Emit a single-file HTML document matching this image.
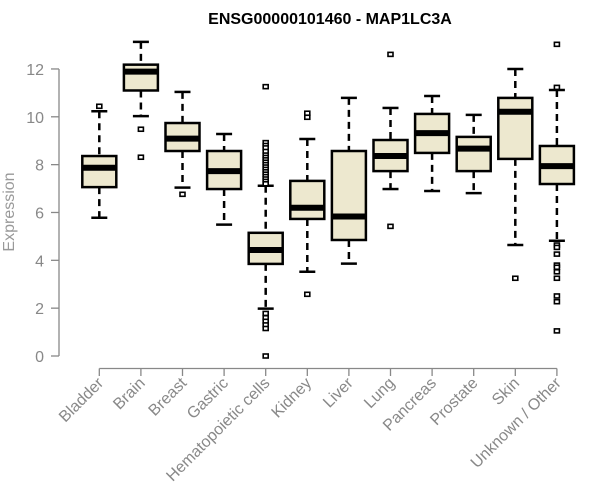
<!DOCTYPE html>
<html><head><meta charset="utf-8"><style>
body{margin:0;background:#fff}
svg{display:block;font-family:"Liberation Sans",Arial,sans-serif}
</style></head><body>
<svg id="chart" width="600" height="500">
<text x="330" y="24" text-anchor="middle" font-size="16" font-weight="bold">ENSG00000101460 - MAP1LC3A</text>
<text transform="translate(14,212) rotate(-90)" text-anchor="middle" font-size="16" fill="#999">Expression</text>
<g id="yaxis"></g>
<g id="xaxis"></g>
<g id="boxes"></g>
</svg>
<script>
const categories=["Bladder","Brain","Breast","Gastric","Hematopoietic cells","Kidney","Liver","Lung","Pancreas","Prostate","Skin","Unknown / Other"];
const whiskerLow=[5.78,10.03,7.04,5.49,1.98,3.52,3.86,6.98,6.9,6.81,4.64,4.82];
const q1=[7.06,11.1,8.57,6.98,3.85,5.73,4.85,7.73,8.49,7.73,8.24,7.19];
const median=[7.87,11.89,9.09,7.73,4.43,6.2,5.83,8.36,9.32,8.67,10.21,7.94];
const q3=[8.36,12.18,9.74,8.57,5.15,7.32,8.57,9.03,10.12,9.16,10.79,8.78];
const whiskerHigh=[10.23,13.13,11.04,9.28,7.12,9.07,10.79,10.37,10.87,10.08,12.0,11.12];
const outliers=[[10.44],[9.48,8.31],[6.76],[],
 [11.26,8.92,8.8,8.7,8.55,8.4,8.3,8.2,8.1,8.0,7.9,7.8,7.7,7.6,7.5,7.4,7.3,7.2,1.78,1.6,1.45,1.3,1.15,0],
 [10.15,9.98,2.58],[],[12.61,5.42],[],[],[3.25],
 [13.03,11.23,4.64,4.54,4.26,3.8,3.71,3.52,3.25,2.51,2.27,1.05]];
const yTicks=[0,2,4,6,8,10,12];
const NS="http://www.w3.org/2000/svg";
function y(v){return 356-v*23.92;}
function x(i){return 99.3+i*41.6;}
function mk(tag,attrs,parent){const e=document.createElementNS(NS,tag);for(const k in attrs)e.setAttribute(k,attrs[k]);parent.appendChild(e);return e;}
const ya=document.getElementById('yaxis'),xa=document.getElementById('xaxis'),bx=document.getElementById('boxes');
mk('line',{x1:59,x2:59,y1:y(12),y2:y(0),stroke:'#888','stroke-width':1.3},ya);
yTicks.forEach(t=>{
 mk('line',{x1:51,x2:59,y1:y(t),y2:y(t),stroke:'#888','stroke-width':1.3},ya);
 const tx=mk('text',{x:44,y:y(t)+6,'text-anchor':'end','font-size':16,fill:'#888'},ya);
 tx.textContent=t;
 
 
});
mk('line',{x1:x(0),x2:x(categories.length-1),y1:368.5,y2:368.5,stroke:'#888','stroke-width':1.3},xa);
categories.forEach((c,i)=>{
 mk('line',{x1:x(i),x2:x(i),y1:368.5,y2:376,stroke:'#888','stroke-width':1.3},xa);
 const tx=mk('text',{transform:`translate(${x(i)+5},${384}) rotate(-45)`,'text-anchor':'end','font-size':16,fill:'#888'},xa);
 tx.textContent=c;
 
 
 const g=mk('g',{},bx);
 
 
 const cx=x(i),hw=17,cw=8;
 mk('line',{x1:cx,x2:cx,y1:y(whiskerHigh[i]),y2:y(q3[i]),stroke:'#000','stroke-width':2.5,'stroke-dasharray':'7,5'},g);
 mk('line',{x1:cx,x2:cx,y1:y(q1[i]),y2:y(whiskerLow[i]),stroke:'#000','stroke-width':2.5,'stroke-dasharray':'7,5'},g);
 mk('line',{x1:cx-cw,x2:cx+cw,y1:y(whiskerHigh[i]),y2:y(whiskerHigh[i]),stroke:'#000','stroke-width':2.5},g);
 mk('line',{x1:cx-cw,x2:cx+cw,y1:y(whiskerLow[i]),y2:y(whiskerLow[i]),stroke:'#000','stroke-width':2.5},g);
 mk('rect',{x:cx-hw,y:y(q3[i]),width:hw*2,height:y(q1[i])-y(q3[i]),fill:'#ede8cf',stroke:'#000','stroke-width':2.5},g);
 mk('line',{x1:cx-hw,x2:cx+hw,y1:y(median[i]),y2:y(median[i]),stroke:'#000','stroke-width':6},g);
 outliers[i].forEach(v=>{
  const r=mk('rect',{x:cx-2.5,y:y(v)-2,width:5,height:4,fill:'#fff',stroke:'#000','stroke-width':1.6},g);
  
  
 });
});
</script>
</body></html>
